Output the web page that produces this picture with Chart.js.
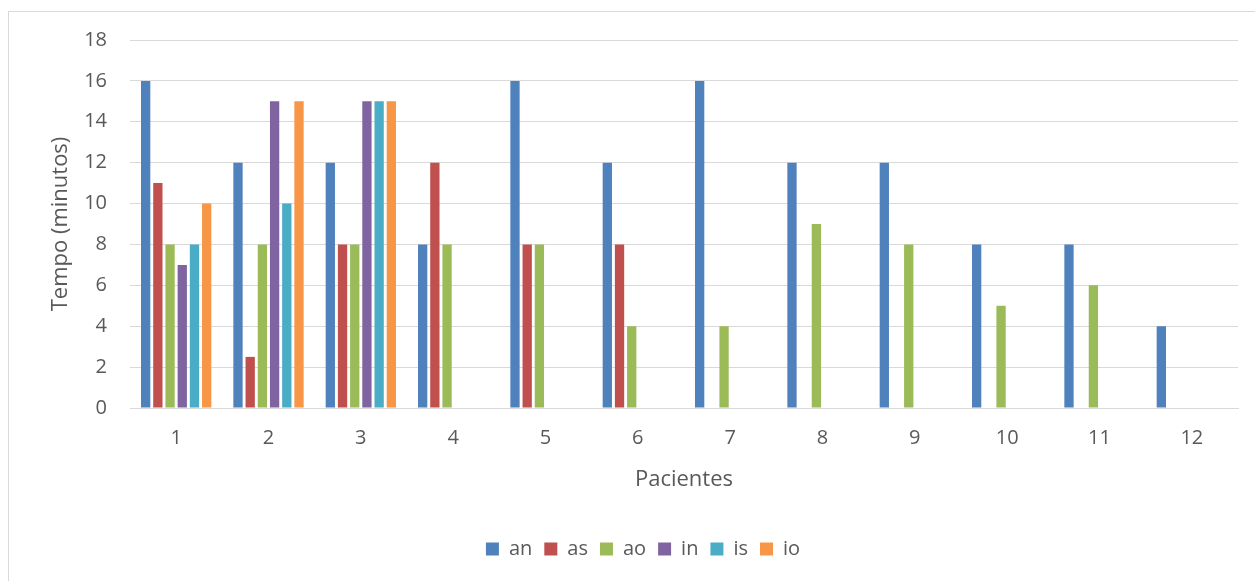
<!DOCTYPE html>
<html>
<head>
<meta charset="utf-8">
<script src="https://cdn.jsdelivr.net/npm/chart.js@4/dist/chart.umd.min.js"></script>
<style>
  html, body { margin: 0; padding: 0; background: #ffffff; overflow: hidden; }
  #frame { position: absolute; left: 8px; top: 11px; width: 1260px; height: 600px; border: 1px solid #d9d9d9; box-sizing: border-box; }
  #chart { position: absolute; left: 0; top: 0; }
</style>
</head>
<body>
<div id="frame"></div>
<canvas id="chart" width="1255" height="581"></canvas>
<script>
// Patients on the x axis, time in minutes per activity
const pacientes = ['1', '2', '3', '4', '5', '6', '7', '8', '9', '10', '11', '12'];
const an = [16, 12, 12, 8, 16, 12, 16, 12, 12, 8, 8, 4];
const as = [11, 2.5, 8, 12, 8, 8, null, null, null, null, null, null];
const ao = [8, 8, 8, 8, 8, 4, 4, 9, 8, 5, 6, null];
const inn = [7, 15, 15, null, null, null, null, null, null, null, null, null];
const is = [8, 10, 15, null, null, null, null, null, null, null, null, null];
const io = [10, 15, 15, null, null, null, null, null, null, null, null, null];
const yTicks = [0, 2, 4, 6, 8, 10, 12, 14, 16, 18];

const FONT = "'Open Sans', 'Liberation Sans', sans-serif";
const TEXT = '#595959';
const GRID = '#d9d9d9';

const series = [
  ['an', an, '#4f81bd'],
  ['as', as, '#c0504d'],
  ['ao', ao, '#9bbb59'],
  ['in', inn, '#8064a2'],
  ['is', is, '#4bacc6'],
  ['io', io, '#f79646']
];

// Nudge the legend so it is centred under the framed area
const legendShift = {
  id: 'legendShift',
  afterLayout(chart) {
    if (chart.legend) {
      chart.legend.left += 24;
      chart.legend.right += 24;
    }
  }
};

new Chart(document.getElementById('chart'), {
  type: 'bar',
  data: {
    labels: pacientes,
    datasets: series.map(([label, data, color]) => ({
      label, data,
      backgroundColor: color,
      borderWidth: 0,
      categoryPercentage: 0.793,
      barPercentage: 0.762
    }))
  },
  plugins: [legendShift],
  options: {
    responsive: false,
    devicePixelRatio: 1,
    animation: false,
    layout: { padding: { top: 40, left: 0, right: 17, bottom: 12 } },
    plugins: {
      tooltip: { enabled: false },
      legend: {
        position: 'bottom',
        labels: {
          color: TEXT,
          font: { family: FONT, size: 20 },
          boxWidth: 13,
          boxHeight: 13,
          padding: 12
        }
      }
    },
    scales: {
      x: {
        grid: { display: false, drawTicks: false },
        border: { display: true, color: GRID, width: 1 },
        ticks: { color: TEXT, font: { family: FONT, size: 20 }, padding: 18, maxRotation: 0 },
        title: {
          display: true, text: 'Pacientes', color: TEXT,
          font: { family: FONT, size: 22 },
          padding: { top: 0, bottom: 34 }
        },
        afterFit(scale) { scale.height = 119; }
      },
      y: {
        min: 0, max: 18,
        afterBuildTicks(scale) { scale.ticks = yTicks.map(v => ({ value: v })); },
        grid: { color: GRID, lineWidth: 1, drawTicks: false },
        border: { display: false },
        ticks: { color: TEXT, font: { family: FONT, size: 20 }, padding: 23 },
        title: {
          display: true, text: 'Tempo (minutos)', color: TEXT,
          font: { family: FONT, size: 22 },
          padding: { top: 48, bottom: 0 }
        },
        afterFit(scale) { scale.width = 130; }
      }
    }
  }
});
</script>
</body>
</html>
